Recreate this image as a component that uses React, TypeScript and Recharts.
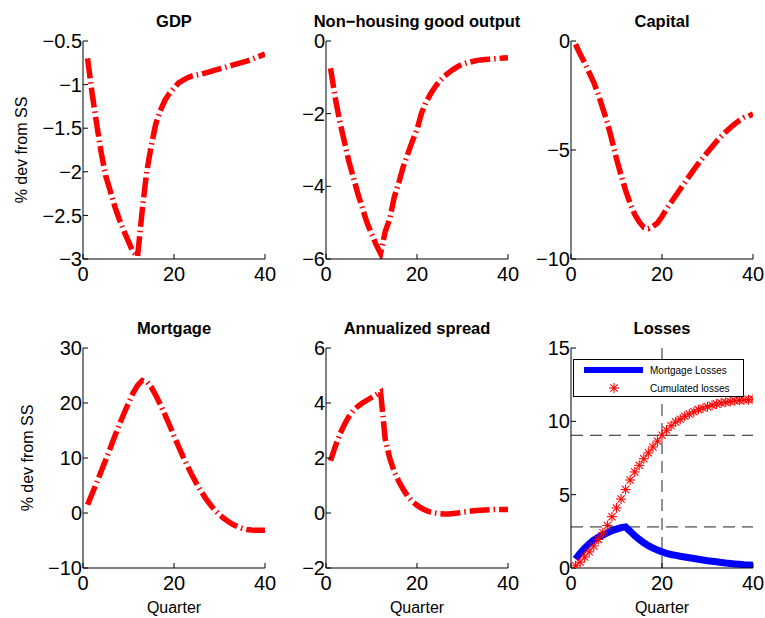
import React from "react";
import { LineChart, Line, XAxis, YAxis, ReferenceLine } from "recharts";

const quarters = [
  1, 2, 3, 4, 5, 6, 7, 8, 9, 10, 11, 12, 13, 14, 15, 16, 17, 18, 19, 20,
  21, 22, 23, 24, 25, 26, 27, 28, 29, 30, 31, 32, 33, 34, 35, 36, 37, 38, 39, 40,
];
const xTicks = [0, 20, 40];

const gdp = [
  -0.7, -1.1, -1.45, -1.78, -2.05, -2.22, -2.4, -2.55, -2.68, -2.8, -2.92, -2.97, -2.45, -2.0,
  -1.7, -1.45, -1.3, -1.18, -1.1, -1.04, -0.98, -0.95, -0.92, -0.9, -0.89, -0.88, -0.865,
  -0.85, -0.835, -0.82, -0.805, -0.79, -0.775, -0.76, -0.745, -0.73, -0.71, -0.69, -0.67, -0.65,
];
const nonHousing = [
  -0.75, -1.55, -2.2, -2.75, -3.3, -3.75, -4.2, -4.6, -5.0, -5.3, -5.6, -5.85, -5.25, -4.9,
  -4.3, -3.9, -3.45, -3.1, -2.75, -2.44, -1.98, -1.68, -1.45, -1.26, -1.1, -0.97, -0.87,
  -0.78, -0.7, -0.64, -0.6, -0.57, -0.54, -0.52, -0.51, -0.5, -0.49, -0.48, -0.47, -0.46,
];
const capital = [
  -0.15, -0.6, -1.0, -1.45, -1.9, -2.45, -3.1, -3.75, -4.55, -5.4, -6.15, -6.85, -7.45, -7.95,
  -8.3, -8.55, -8.6, -8.5, -8.35, -8.05, -7.7, -7.4, -7.1, -6.8, -6.5, -6.2, -5.9, -5.62,
  -5.35, -5.1, -4.85, -4.6, -4.38, -4.17, -3.98, -3.8, -3.65, -3.52, -3.45, -3.35,
];
const mortgage = [
  1.5, 3.5, 5.5, 7.6, 9.7, 11.8, 14.0, 16.1, 18.1, 20.0, 21.8, 23.2, 24.1, 23.9, 22.9, 21.4,
  19.7, 17.9, 16.0, 14.0, 12.1, 10.2, 8.5, 6.8, 5.3, 3.9, 2.6, 1.5, 0.5, -0.3, -1.0, -1.6,
  -2.1, -2.5, -2.8, -3.0, -3.1, -3.15, -3.15, -3.15,
];
const spread = [
  1.9, 2.4, 2.85, 3.2, 3.5, 3.72, 3.88, 4.0, 4.1, 4.2, 4.3, 4.4, 2.7, 2.0, 1.5, 1.15, 0.85,
  0.6, 0.42, 0.28, 0.17, 0.09, 0.03, 0.0, -0.03, -0.04, -0.04, -0.02, 0.0, 0.03, 0.05, 0.07,
  0.09, 0.1, 0.11, 0.12, 0.13, 0.13, 0.13, 0.13,
];
const mortgageLosses = [
  0.6, 1.0, 1.35, 1.65, 1.9, 2.1, 2.25, 2.4, 2.55, 2.65, 2.75, 2.8, 2.5, 2.2, 1.95, 1.72,
  1.52, 1.36, 1.22, 1.1, 1.0, 0.92, 0.86, 0.8, 0.75, 0.7, 0.65, 0.6, 0.55, 0.5, 0.46, 0.42,
  0.38, 0.34, 0.31, 0.28, 0.25, 0.22, 0.2, 0.18,
];
const cumulatedLosses = [
  0.15, 0.4, 0.75, 1.1, 1.5, 1.95, 2.4, 2.9, 3.5, 4.1, 4.7, 5.35, 6.0, 6.55, 7.0, 7.45, 7.85,
  8.25, 8.65, 9.05, 9.4, 9.7, 9.95, 10.15, 10.35, 10.5, 10.65, 10.8, 10.9, 11.0, 11.1, 11.18,
  11.25, 11.3, 11.35, 11.4, 11.43, 11.46, 11.48, 11.5,
];

const FONT = "'Liberation Sans', Arial, Helvetica, sans-serif";
const RED = "#ff0000";
const BLUE = "#0000ff";

const fmt = (v: number) => String(v).replace("-", "\u2212");

const series = (vals: number[]) => quarters.map((q, i) => ({ q, v: vals[i] }));

const Star = ({ cx, cy, r = 5 }: { cx: number; cy: number; r?: number }) => {
  const d = r * 0.72;
  return (
    <g stroke={RED} strokeWidth={1.1}>
      <line x1={cx - r} y1={cy} x2={cx + r} y2={cy} />
      <line x1={cx} y1={cy - r} x2={cx} y2={cy + r} />
      <line x1={cx - d} y1={cy - d} x2={cx + d} y2={cy + d} />
      <line x1={cx - d} y1={cy + d} x2={cx + d} y2={cy - d} />
    </g>
  );
};

const ML = 60;
const MT = 30;
const MR = 12;
const XH = 40;

interface PanelProps {
  title: string;
  left: number;
  top: number;
  w: number;
  h: number;
  yDomain: [number, number];
  yTicks: number[];
  rows: Record<string, number>[];
  yLabelX?: number;
  showX?: boolean;
  children: React.ReactNode;
}

function Panel({ title, left, top, w, h, yDomain, yTicks, rows, yLabelX, showX, children }: PanelProps) {
  const tickStyle = { fill: "#000", fontSize: 20, fontFamily: FONT };
  return (
    <div style={{ position: "absolute", left: left - ML, top: top - MT, width: ML + w + MR, height: MT + h + XH }}>
      <LineChart width={ML + w + MR} height={MT + h + XH} data={rows} margin={{ top: MT, right: MR, left: 0, bottom: 0 }}>
        <XAxis
          dataKey="q"
          type="number"
          domain={[0, 40]}
          ticks={xTicks}
          interval={0}
          height={XH}
          tickSize={-5}
          tickMargin={13}
          stroke="#000"
          tick={tickStyle}
          allowDataOverflow
        />
        <XAxis
          xAxisId="top"
          orientation="top"
          dataKey="q"
          type="number"
          domain={[0, 40]}
          ticks={xTicks}
          interval={0}
          height={0}
          tickSize={-5}
          stroke="#000"
          tick={false}
          allowDataOverflow
        />
        <YAxis
          type="number"
          domain={yDomain}
          ticks={yTicks}
          interval={0}
          width={ML}
          tickSize={-5}
          tickMargin={6}
          stroke="#000"
          tick={tickStyle}
          tickFormatter={fmt}
          allowDataOverflow
        />
        <YAxis
          yAxisId="right"
          orientation="right"
          type="number"
          domain={yDomain}
          ticks={yTicks}
          interval={0}
          width={0}
          tickSize={-5}
          stroke="#000"
          tick={false}
          allowDataOverflow
        />
        {children}
      </LineChart>
      <div
        style={{
          position: "absolute",
          left: ML - 20,
          top: 2,
          width: w + 40,
          textAlign: "center",
          fontFamily: FONT,
          fontWeight: "bold",
          fontSize: 16.5,
          lineHeight: "16px",
          whiteSpace: "nowrap",
        }}
      >
        {title}
      </div>
      {yLabelX !== undefined && (
        <div
          style={{
            position: "absolute",
            left: yLabelX - (left - ML),
            top: MT + h / 2,
            transform: "translate(-50%, -50%) rotate(-90deg)",
            fontFamily: FONT,
            fontSize: 16,
            lineHeight: "16px",
            whiteSpace: "nowrap",
          }}
        >
          % dev from SS
        </div>
      )}
      {showX && (
        <div
          style={{
            position: "absolute",
            left: ML,
            top: MT + h + 32.5,
            width: w,
            textAlign: "center",
            fontFamily: FONT,
            fontSize: 16,
            lineHeight: "14px",
          }}
        >
          Quarter
        </div>
      )}
    </div>
  );
}

const redLine = (
  <Line
    dataKey="v"
    stroke={RED}
    strokeWidth={5.5}
    strokeDasharray="20 4 1.5 4"
    dot={false}
    isAnimationActive={false}
  />
);

function LossLegend() {
  return (
    <svg
      width={171}
      height={38}
      style={{ position: "absolute", left: 573, top: 359, background: "#fff" }}
    >
      <rect x={0.5} y={0.5} width={170} height={37} fill="#fff" stroke="#000" strokeWidth={1} />
      <line x1={11} y1={11} x2={70} y2={11} stroke={BLUE} strokeWidth={6} />
      <Star cx={41} cy={29} />
      <text x={77} y={14.5} fontFamily={FONT} fontSize={10} fill="#000">
        Mortgage Losses
      </text>
      <text x={77} y={32.5} fontFamily={FONT} fontSize={10} fill="#000">
        Cumulated losses
      </text>
    </svg>
  );
}

export default function App() {
  const lossRows = quarters.map((q, i) => ({ q, m: mortgageLosses[i], c: cumulatedLosses[i] }));
  const peakLoss = Math.max(...mortgageLosses);
  const cumAt20 = cumulatedLosses[quarters.indexOf(20)];
  return (
    <div style={{ position: "absolute", left: 0, top: 0, width: 765, height: 618, background: "#fff", overflow: "hidden" }}>
      <Panel title="GDP" left={83} top={41} w={182} h={218} yDomain={[-3, -0.5]} yTicks={[-3, -2.5, -2, -1.5, -1, -0.5]} rows={series(gdp)} yLabelX={22}>
        {redLine}
      </Panel>
      <Panel title={"Non\u2212housing good output"} left={326} top={41} w={182} h={218} yDomain={[-6, 0]} yTicks={[-6, -4, -2, 0]} rows={series(nonHousing)}>
        {redLine}
      </Panel>
      <Panel title="Capital" left={571} top={41} w={182} h={218} yDomain={[-10, 0]} yTicks={[-10, -5, 0]} rows={series(capital)}>
        {redLine}
      </Panel>
      <Panel title="Mortgage" left={83} top={348} w={182} h={220} yDomain={[-10, 30]} yTicks={[-10, 0, 10, 20, 30]} rows={series(mortgage)} yLabelX={28} showX>
        {redLine}
      </Panel>
      <Panel title="Annualized spread" left={326} top={348} w={182} h={220} yDomain={[-2, 6]} yTicks={[-2, 0, 2, 4, 6]} rows={series(spread)} showX>
        {redLine}
      </Panel>
      <Panel title="Losses" left={571} top={348} w={182} h={220} yDomain={[0, 15]} yTicks={[0, 5, 10, 15]} rows={lossRows} showX>
        <ReferenceLine y={cumAt20} stroke="#222" strokeDasharray="12 7" />
        <ReferenceLine y={peakLoss} stroke="#222" strokeDasharray="12 7" />
        <ReferenceLine x={20} stroke="#222" strokeDasharray="12 7" />
        <Line dataKey="m" stroke={BLUE} strokeWidth={7} dot={false} isAnimationActive={false} />
        <Line
          dataKey="c"
          stroke="none"
          dot={(p: any) => <Star key={p.index} cx={p.cx} cy={p.cy} />}
          isAnimationActive={false}
        />
      </Panel>
      <LossLegend />
    </div>
  );
}
